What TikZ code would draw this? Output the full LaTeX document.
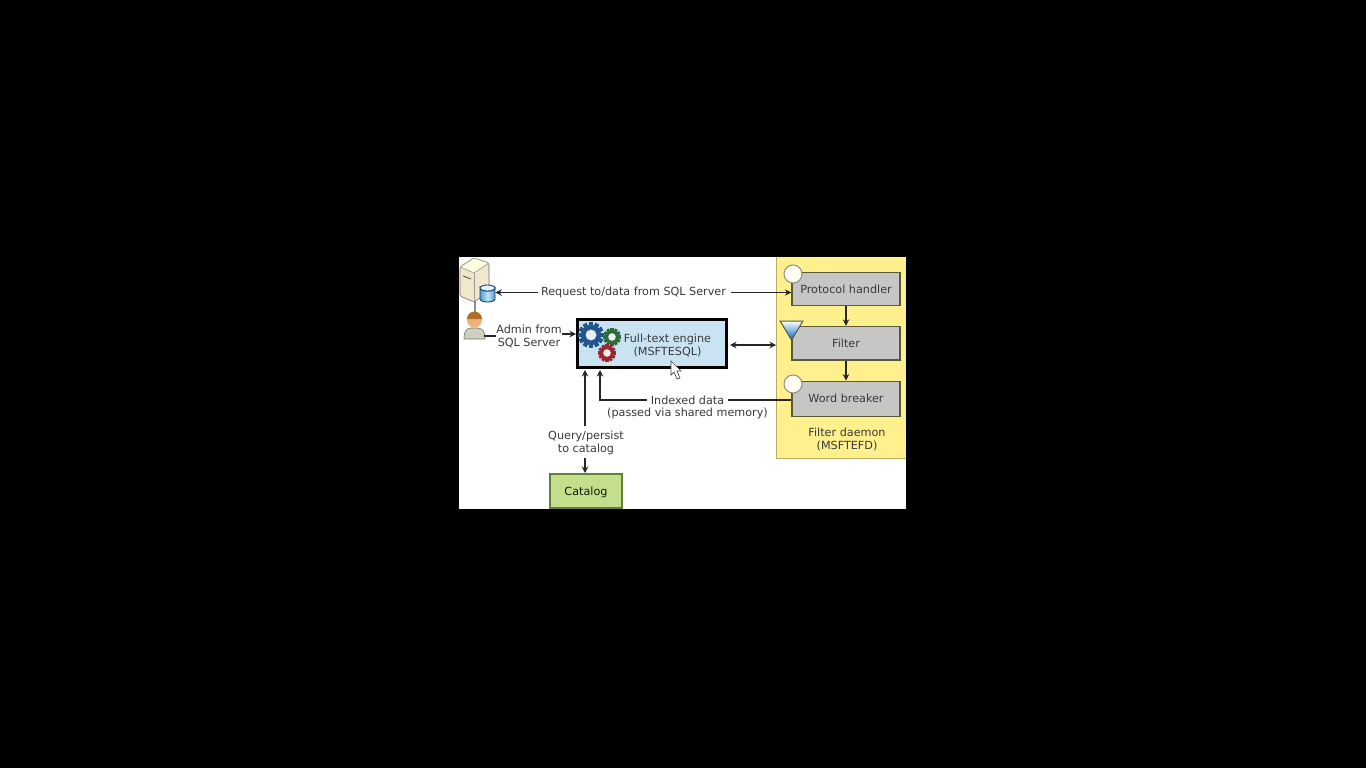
\documentclass[tikz,border=0pt]{standalone}
\usepackage{fontspec}
\setmainfont{DejaVu Sans}
\usetikzlibrary{positioning,arrows.meta,shapes.geometric}

\definecolor{panelyellow}{HTML}{FFF08E}
\definecolor{boxgrey}{HTML}{C6C6C4}
\definecolor{boxedge}{HTML}{5A5A38}
\definecolor{enginefill}{HTML}{C9E3F3}
\definecolor{catfill}{HTML}{C3DF8B}
\definecolor{catedge}{HTML}{5E8038}
\definecolor{inktext}{HTML}{3A3A3A}
\definecolor{gearblue}{HTML}{22568F}
\definecolor{geargreen}{HTML}{2F6B3A}
\definecolor{gearred}{HTML}{99282C}
\definecolor{dbedge}{HTML}{1F4468}
\definecolor{dbside}{HTML}{4F9BD0}
\definecolor{dbmid}{HTML}{BFE3F4}

\begin{document}
\begin{tikzpicture}[
    x = 1pt,
    y = -1pt,
    > = {Stealth[length=6.5pt,width=6.5pt]},
    semithick,
    label/.style={font=\fontsize{11.2}{13}\selectfont, text=inktext, align=center, inner sep=0pt},
    procbox/.style={rectangle, draw=boxedge, line width=1.2pt, fill=boxgrey, minimum width=108pt, minimum height=33.5pt, inner sep=0pt, font=\fontsize{11.2}{13}\selectfont, text=inktext},
    ring/.style={circle, draw=black!45, line width=1pt, fill=white!94!yellow, minimum size=18pt, inner sep=0pt},
    link/.style={line width=1.4pt, color=black!85},
    gear/.pic={
        \foreach \ang in {0,30,...,150}
            \fill[#1, rotate=\ang] (-0.17,-1) rectangle (0.17,1);
        \fill[#1] (0,0) circle (0.78);
        \fill[white!90!#1] (0,0) circle (0.42);
    }
]

% Background and panels
\fill[black] (0,0) rectangle (1366,768);
\fill[white] (459,257) rectangle (906,509);
\fill[panelyellow] (776,257) rectangle (906,458);
\draw[panelyellow!75!black!80!brown] (776,257) -- (776,458) -- (906,458);

% Filter daemon boxes
\node[procbox] (protocol) at (846,289) {Protocol handler};
\node[procbox] (filter) [below=19.5pt of protocol] {Filter};
\node[procbox, minimum height=35pt] (breaker) [below=20pt of filter] {Word breaker};
\node[label] (daemon) at (847,439.5) {Filter daemon\\(MSFTEFD)};

% Markers on the boxes
\node[ring] (protoring) at (793,274) {};
\node[ring] (breakring) at (793,384) {};
\node[isosceles triangle, isosceles triangle apex angle=62, shape border rotate=-90, draw=boxedge, line width=1pt,
      top color=white, bottom color=blue!45!cyan!75!black, minimum height=19pt, inner sep=0pt] (funnel) at (791.5,327.5) {};

% Engine and catalog
\node[rectangle, draw=black, line width=2.6pt, fill=enginefill, minimum width=149pt, minimum height=48pt] (engine) at (652,343.5) {};
\node[label] (enginetext) at (667.5,345.5) {Full-text engine\\(MSFTESQL)};
\node[rectangle, draw=catedge, line width=1.2pt, fill=catfill, minimum width=72pt, minimum height=34pt, text depth=0pt,
      font=\fontsize{11.2}{13}\selectfont, text=inktext!80!green!30!black] (catalog) at (586,491) {Catalog};

% Gears
\foreach \gx/\gy/\gsize/\gcol in {591/335/13/gearblue, 612/337/9/geargreen, 607/353/9/gearred}
    \pic[scale=\gsize] at (\gx,\gy) {gear={\gcol}};

% Server and database
\fill[black!45] (474,300) rectangle (475.5,314);
\draw[black!55, rounded corners=1.5pt, fill=yellow!22!brown!25!white] (460,267) -- (474,258) -- (489,263) -- (489,292) -- (474,302) -- (460,296) -- cycle;
\draw[black!40, rounded corners=1.5pt, fill=yellow!12!white] (460,267) -- (474,258) -- (489,263) -- (474,273) -- cycle;
\draw[black!40] (474,273) -- (474,302);
\draw[black!60, line width=1pt] (463,276) -- (471,279);
\draw[dbedge, line width=.9pt, left color=dbside, right color=dbside, middle color=dbmid]
    (480,288) -- (480,299) arc[start angle=180, end angle=0, x radius=7.5, y radius=3]
    -- (495,288) arc[start angle=0, end angle=180, x radius=7.5, y radius=3] -- cycle;
\draw[dbedge, line width=.9pt, fill=dbmid!50!white] (487.5,288) ellipse[x radius=7.5, y radius=3];
\node[inner sep=0pt, minimum width=15pt, minimum height=18pt] (dbase) at (487.5,293.5) {};

% Admin figure
\draw[black!55, fill=yellow!30!black!30] (464,339) .. controls (464,327) and (470,328) .. (474,328)
    .. controls (479,328) and (485,327) .. (485,339) -- cycle;
\node[circle, fill=orange!45!brown!60!white, minimum size=15pt, inner sep=0pt] (admin) at (474.5,320) {};
\fill[brown!70!orange!85!black] (467,319) arc[start angle=180, end angle=360, radius=7.5] -- cycle;
\coordinate (adminout) at (484,336);

% Labels
\node[label] (request) at (633.5,292.5) {Request to/data from SQL Server};
\node[label] (adminlabel) at (529,336) {Admin from\\SQL Server};
\node[label] (indexed) at (687.5,400) {Indexed data};
\node[label] (shared) [below=3.5pt of indexed] {(passed via shared memory)};
\node[label] (query) at (586,443) {Query/persist\\to catalog};

% Cursor
\draw[black!70, fill=white, line width=.7pt] (671,361) -- (671,375) -- (674,372) -- (677,379) -- (680,378) -- (677,371) -- (681,371) -- cycle;

% Connectors
\coordinate (linkleft) at (730,345);
\coordinate (linkright) at (776,345);
\coordinate (indexfoot) at (600,370);
\coordinate (queryfoot) at (585,370);
\coordinate (querytop) at (585,426);
\coordinate (querylow) at (585,458);
\coordinate (catalogtop) at (585,473);
\coordinate (adminfrom) at (562,334);
\coordinate (adminto) at (576,334);
\draw[link, ->] ([xshift=-3pt]request.west) -- (request.west -| dbase.east);
\draw[link, ->] ([xshift=5pt]request.east) -- (request.east -| protocol.west);
\draw[link] (adminout) -- (adminout -| adminlabel.west);
\draw[link, ->] (adminfrom) -- (adminto);
\draw[link, <->] (linkleft) -- (linkright);
\draw[link, ->] (protocol) -- (filter);
\draw[link, ->] (filter) -- (breaker);
\draw[link] (indexed.east -| breaker.west) -- ([xshift=4pt]indexed.east);
\draw[link, ->] ([xshift=-4pt]indexed.west) -| (indexfoot);
\draw[link, ->] (querytop) -- (queryfoot);
\draw[link, ->] (querylow) -- (catalogtop);

\end{tikzpicture}
\end{document}
